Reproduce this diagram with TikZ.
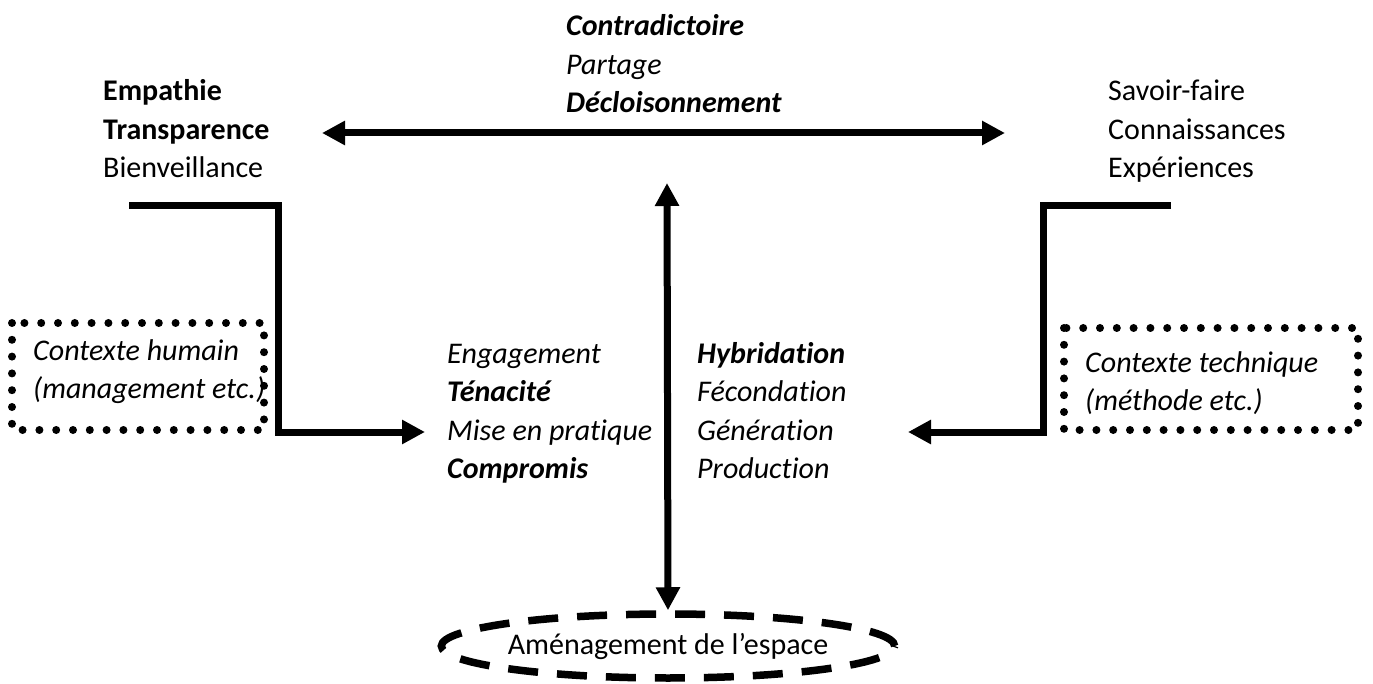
\documentclass[tikz,border=0pt]{standalone}
\usepackage{fontspec}
\setmainfont[Ligatures=NoCommon]{Carlito}
\usetikzlibrary{arrows.meta,shapes.geometric}
\begin{document}
\begin{tikzpicture}[x=1pt,y=-1pt,
  txt/.style={anchor=base west,inner sep=0pt,font=\fontsize{30}{36}\selectfont},
  conn/.style={line width=7pt,-{Triangle[length=23pt,width=23pt]}},
  dconn/.style={line width=7pt,{Triangle[length=23pt,width=23pt]}-{Triangle[length=23pt,width=23pt]}},
  dotbox/.style={line width=8pt,line cap=round,dash pattern=on 0pt off 16.8pt},
  dashell/.style={ellipse,draw,line width=7.5pt,dash pattern=on 30pt off 19pt,inner sep=0pt,minimum width=446pt,minimum height=64pt,font=\fontsize{30}{36}\selectfont}
]
\useasboundingbox (0,0) rectangle (1373,684);

% top centre
\node[txt] (contra) at (566,36) {\bfseries\itshape Contradictoire};
\node[txt] (partage) at (566,75) {\itshape Partage};
\node[txt] (decl) at (566,113) {\bfseries\itshape Décloisonnement};

% left top
\node[txt] (emp) at (103,101) {\bfseries Empathie};
\node[txt] (trans) at (103,140) {\bfseries Transparence};
\node[txt] (bien) at (103,178) {Bienveillance};

% right top
\node[txt] (savoir) at (1108,101) {Savoir-faire};
\node[txt] (conn) at (1108,140) {Connaissances};
\node[txt] (exp) at (1108,178) {Expériences};

% middle left
\node[txt] (eng) at (447,363) {\itshape Engagement};
\node[txt] (ten) at (447,401) {\bfseries\itshape Ténacité};
\node[txt] (mise) at (447,440) {\itshape Mise en pratique};
\node[txt] (comp) at (447,478) {\bfseries\itshape Compromis};

% middle right
\node[txt] (hyb) at (697,363) {\bfseries\itshape Hybridation};
\node[txt] (fec) at (697,401) {\itshape Fécondation};
\node[txt] (gen) at (697,440) {\itshape Génération};
\node[txt] (prod) at (697,478) {\itshape Production};

% context boxes
\draw[dotbox] (12,323) rectangle (264,430);
\node[txt] (ch1) at (33,361) {\itshape Contexte humain};
\node[txt] (ch2) at (33,399) {\itshape (management etc.)};

\draw[dotbox] (1064,328) rectangle (1358,430);
\node[txt] (ct1) at (1085,373) {\itshape Contexte technique};
\node[txt] (ct2) at (1085,410) {\itshape (méthode etc.)};

% ellipse
\node[dashell] (amen) at (668,646) {Aménagement de l’espace};

% coordinates
\coordinate (hL) at (322,133);
\coordinate (hR) at (1005,133);
\coordinate (vT) at (667,183);
\coordinate (lS) at (129,206);
\coordinate (lC) at (278,432);
\coordinate (lE) at (425,432);
\coordinate (rS) at (1171,206);
\coordinate (rC) at (1043,432);
\coordinate (rE) at (908,432);

\draw[dconn] (hL) -- (hR);
\draw[dconn] (vT) -- (amen.north);
\draw[conn] (lS) -| (lC) -- (lE);
\draw[conn] (rS) -| (rC) -- (rE);
\end{tikzpicture}
\end{document}
